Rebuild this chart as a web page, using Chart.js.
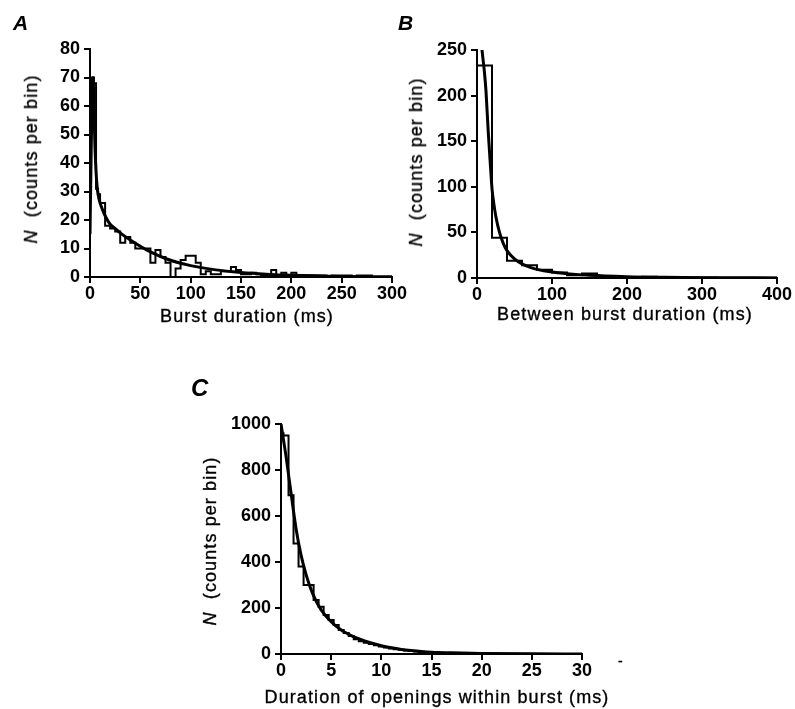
<!DOCTYPE html>
<html><head><meta charset="utf-8">
<script src="https://cdn.jsdelivr.net/npm/chart.js@4.4.1/dist/chart.umd.min.js"></script>
<style>
html,body{margin:0;padding:0;background:#fff;}
body{width:795px;height:709px;position:relative;overflow:hidden;font-family:"Liberation Sans",Arial,sans-serif;color:#000;}
canvas{position:absolute;left:0;top:0;}
.t{position:absolute;white-space:nowrap;font-size:18px;line-height:18px;letter-spacing:1.1px;-webkit-text-stroke:0.35px #000;}
.xt{transform:translateX(-50%);}
.yt{transform:translate(-50%,-50%) rotate(-90deg);}
.p{position:absolute;white-space:nowrap;font-style:italic;font-weight:bold;}
</style></head>
<body>
<canvas id="cA" width="795" height="709"></canvas>
<canvas id="cB" width="795" height="709"></canvas>
<canvas id="cC" width="795" height="709"></canvas>

<div class="p" style="left:13px;top:12px;font-size:21px;line-height:21px;">A</div>
<div class="p" style="left:398px;top:12px;font-size:21px;line-height:21px;">B</div>
<div class="p" style="left:191px;top:376px;font-size:24px;line-height:24px;">C</div>

<div class="t yt" style="left:31px;top:159px;"><i>N</i>&nbsp;&nbsp;(counts per bin)</div>
<div class="t yt" style="left:416px;top:162px;"><i>N</i>&nbsp;&nbsp;(counts per bin)</div>
<div class="t yt" style="left:210px;top:541px;"><i>N</i>&nbsp;&nbsp;(counts per bin)</div>

<div class="t xt" style="left:247px;top:307px;">Burst duration (ms)</div>
<div class="t xt" style="left:625px;top:305px;">Between burst duration (ms)</div>
<div class="t xt" style="left:437px;top:688px;">Duration of openings within burst (ms)</div>
<div class="t" style="left:618px;top:652px;font-size:14px;">-</div>

<script>
// ---------- Panel A: burst duration ----------
const histAEdges = [0, 2, 4, 6, 8, 10, 15, 20, 25, 30, 35, 40, 45, 50, 55, 60, 65, 70, 75, 80, 85, 90, 95, 100, 105, 110, 115, 120, 125, 130, 135, 140, 145, 150, 155, 160, 165, 170, 175, 180, 185, 190, 195, 200, 205, 210, 215, 220, 225, 230, 235, 240, 245, 250, 255, 260, 265, 270, 275];
const histACounts = [60, 70, 68, 31, 29, 26, 18, 17, 16, 12, 14, 12, 10, 10, 10, 5, 9.5, 7, 5, 0, 3, 6, 7.5, 7.5, 5, 1, 2, 1, 1, 2, 2, 3.5, 2.5, 1, 1, 1.5, 1, 0.5, 0.5, 2.5, 0.5, 1.5, 0.5, 1.5, 0.5, 0.5, 0.5, 0.5, 0.5, 0.5, 0, 0.5, 0.5, 0.5, 0.5, 0, 0.5, 0.5, 0.5];
const histAEnd = 280;
const fitAX = [0, 1, 2, 3, 4, 5, 6, 7, 8, 10, 12, 15, 20, 25, 30, 40, 50, 60, 75, 90, 100, 125, 150, 175, 200, 250, 300];
const fitAY = [15, 40, 62, 70, 58, 45, 37, 32, 29, 26, 24, 21.5, 18.5, 17, 15.5, 13, 10.8, 8.8, 6.5, 4.8, 4, 2.5, 1.6, 1, 0.6, 0.2, 0.05];
const ticksAX = [0, 50, 100, 150, 200, 250, 300];
const ticksAY = [0, 10, 20, 30, 40, 50, 60, 70, 80];

// ---------- Panel B: between burst duration ----------
const histBEdges = [0, 20, 40, 60, 80, 100, 120, 140, 160, 180, 200, 220, 240, 260, 280, 300, 320, 340, 360, 380];
const histBCounts = [233, 44, 19, 14, 9, 6, 3, 5, 2, 1, 1, 1.5, 0.5, 0.5, 0.5, 0.5, 0.3, 0.3, 0.3, 0.3];
const histBEnd = 400;
const fitBX = [6, 8, 10, 12, 15, 18, 20, 22, 25, 30, 35, 40, 50, 60, 70, 80, 100, 120, 150, 200, 250, 300, 400];
const fitBY = [255, 240, 225, 205, 160, 122, 98, 84, 68, 50, 38, 30, 21, 15.5, 12, 9.5, 6.5, 4.8, 3, 1.5, 0.8, 0.4, 0.1];
const ticksBX = [0, 100, 200, 300, 400];
const ticksBY = [0, 50, 100, 150, 200, 250];

// ---------- Panel C: openings within burst ----------
const histCEdges = [0, 0.25, 0.75, 1.25, 1.75, 2.25, 2.75, 3.25, 3.75, 4.25, 4.75, 5.25, 5.75, 6.25, 6.75, 7.25, 7.75, 8.25, 8.75, 9.25, 9.75, 10.25, 10.75, 11.25, 11.75, 12.25, 12.75, 13.25, 13.75, 14.25, 14.75, 15.25, 15.75, 16.25, 16.75, 17.25, 17.75, 18.25, 18.75, 19.25, 19.75, 20.25, 20.75, 21.25];
const histCCounts = [960, 950, 690, 480, 380, 300, 300, 235, 205, 170, 148, 126, 104, 91, 78, 64, 55, 49, 43, 38, 33, 28, 24, 21, 18, 15, 13, 11, 9, 8, 7, 6, 5, 4, 4, 3, 3, 2, 2, 2, 1, 1, 1, 1];
const histCEnd = 21.75;
const fitCX = [0, 0.25, 0.5, 0.75, 1, 1.5, 2, 2.5, 3, 3.5, 4, 5, 6, 7, 8, 9, 10, 11, 12, 13, 14, 15, 17, 20, 25, 30];
const fitCY = [1000, 930, 860, 780, 700, 545, 430, 345, 280, 230, 192, 140, 104, 80, 62, 48, 36, 27, 20, 15, 11, 8, 5, 2.5, 0.6, 0.2];
const ticksCX = [0, 5, 10, 15, 20, 25, 30];
const ticksCY = [0, 200, 400, 600, 800, 1000];

const FONT = "'Liberation Sans', Arial, Helvetica, sans-serif";
const W = 795, H = 709, YW = 60, XH = 30;

function histPoints(edges, counts, end) {
  const pts = [{x: edges[0], y: 0}];
  edges.forEach((e, i) => pts.push({x: e, y: counts[i]}));
  pts.push({x: end, y: 0});
  return pts;
}
function fitPoints(xs, ys) { return xs.map((x, i) => ({x: x, y: ys[i]})); }

function axis(max, ticksArr, isX) {
  return {
    type: 'linear', min: 0, max: max,
    afterBuildTicks: s => { s.ticks = ticksArr.map(v => ({value: v})); },
    afterFit: s => {
      if (isX) { s.height = XH; s.paddingLeft = 0; s.paddingRight = 0; }
      else { s.width = YW; s.paddingTop = 0; s.paddingBottom = 0; }
    },
    ticks: {color: '#000', font: {family: FONT, size: 18, weight: 'bold'}, padding: isX ? 0 : 4,
            maxRotation: 0, autoSkip: false, callback: v => String(v)},
    grid: {display: true, drawOnChartArea: false, drawTicks: true, tickLength: 6, color: '#000', lineWidth: 2},
    border: {display: true, color: '#000', width: 2}
  };
}

function panel(id, area, edges, counts, end, fx, fy, xMax, yMax, tx, ty) {
  new Chart(document.getElementById(id), {
    type: 'line',
    data: {datasets: [
      {data: histPoints(edges, counts, end), stepped: 'before', borderColor: '#000', borderWidth: 2,
       pointRadius: 0, fill: false},
      {data: fitPoints(fx, fy), borderColor: '#000', borderWidth: 3, pointRadius: 0, fill: false,
       cubicInterpolationMode: 'monotone'}
    ]},
    options: {
      responsive: false, animation: false, events: [],
      layout: {padding: {left: area.l - YW, top: area.t, right: W - area.r, bottom: H - area.b - XH}},
      plugins: {legend: {display: false}, tooltip: {enabled: false}},
      scales: {x: axis(xMax, tx, true), y: axis(yMax, ty, false)}
    }
  });
}

panel('cA', {l: 90, t: 49, r: 392, b: 277}, histAEdges, histACounts, histAEnd, fitAX, fitAY, 300, 80, ticksAX, ticksAY);
panel('cB', {l: 477, t: 50, r: 777, b: 278}, histBEdges, histBCounts, histBEnd, fitBX, fitBY, 400, 250, ticksBX, ticksBY);
panel('cC', {l: 281, t: 424, r: 582, b: 654}, histCEdges, histCCounts, histCEnd, fitCX, fitCY, 30, 1000, ticksCX, ticksCY);
</script>
</body></html>
